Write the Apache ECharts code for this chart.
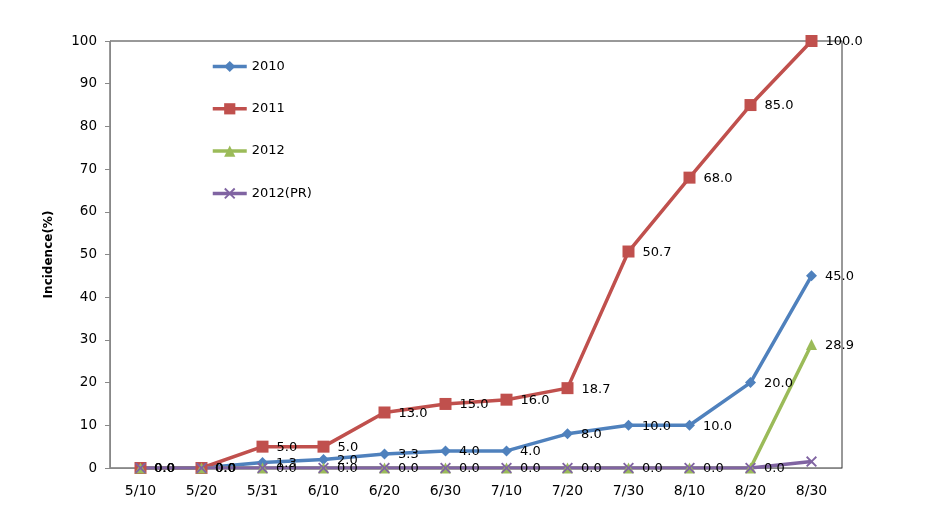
<!DOCTYPE html>
<html>
<head>
<meta charset="utf-8">
<script src="https://cdn.jsdelivr.net/npm/echarts@6/dist/echarts.min.js"></script>
<style>html,body{margin:0;padding:0;background:#fff}#c{width:946px;height:515px}</style>
</head>
<body>
<div id="c"></div>
<script>
var categories = ['5/10','5/20','5/31','6/10','6/20','6/30','7/10','7/20','7/30','8/10','8/20','8/30'];
var s2010 = [0,0,1.3,2.0,3.3,4.0,4.0,8.0,10.0,10.0,20.0,45.0];
var s2011 = [0,0,5.0,5.0,13.0,15.0,16.0,18.7,50.7,68.0,85.0,100.0];
var s2012 = [0,0,0,0,0,0,0,0,0,0,0,28.9];
var s2012PR = [0,0,0,0,0,0,0,0,0,0,0,1.5];
var seriesNames = ['2010','2011','2012','2012(PR)'];
var yTicks = {min:0, max:100, interval:10};

var FONT = '"DejaVu Sans", sans-serif';
var xPath = 'path://M0,1.2L1.2,0L5,3.8L8.8,0L10,1.2L6.2,5L10,8.8L8.8,10L5,6.2L1.2,10L0,8.8L3.8,5Z';

function lbl(show){
  return {show: show, position:'right', distance:8, color:'#000', fontSize:13, fontFamily:FONT,
    offset:[0,1],
    formatter:function(p){return Number(p.value).toFixed(1);}};
}
function ser(name, data, color, symbol, size, showLabel){
  return {name:name, type:'line', data:data, symbol:symbol, symbolSize:size, showSymbol:true,
    lineStyle:{color:color, width:3.5}, itemStyle:{color:color}, label:lbl(showLabel), emphasis:{disabled:true}, animation:false};
}

var chart = echarts.init(document.getElementById('c'));
chart.setOption({
  backgroundColor:'#fff',
  animation:false,
  grid:{left:110, right:104, top:41, bottom:47, show:true, borderColor:'#333', borderWidth:1, backgroundColor:'transparent'},
  legend:{orient:'vertical', left:206, top:55, itemWidth:34, itemHeight:14, itemGap:29.3,
    lineStyle:{width:3.5},
    textStyle:{color:'#000', fontSize:13, fontFamily:FONT}, data:seriesNames},
  xAxis:{type:'category', data:categories, boundaryGap:true,
    axisLine:{lineStyle:{color:'#888', width:1}}, axisTick:{show:false},
    axisLabel:{color:'#000', fontSize:14, fontFamily:FONT, margin:16}},
  yAxis:{type:'value', min:yTicks.min, max:yTicks.max, interval:yTicks.interval,
    name:'Incidence(%)', nameLocation:'middle', nameGap:55, nameRotate:90,
    nameTextStyle:{color:'#000', fontSize:12, fontWeight:'bold', fontFamily:FONT},
    axisLine:{show:true, lineStyle:{color:'#888', width:1}},
    axisTick:{show:true, length:5, lineStyle:{color:'#888'}},
    splitLine:{show:false},
    axisLabel:{color:'#000', fontSize:13.5, fontFamily:FONT, margin:13}},
  series:[
    ser('2010', s2010, '#4F81BD', 'diamond', 11, true),
    ser('2011', s2011, '#C0504D', 'rect', 12, true),
    ser('2012', s2012, '#9BBB59', 'triangle', 11, true),
    ser('2012(PR)', s2012PR, '#8064A2', xPath, 11, false)
  ]
});
</script>
</body>
</html>
